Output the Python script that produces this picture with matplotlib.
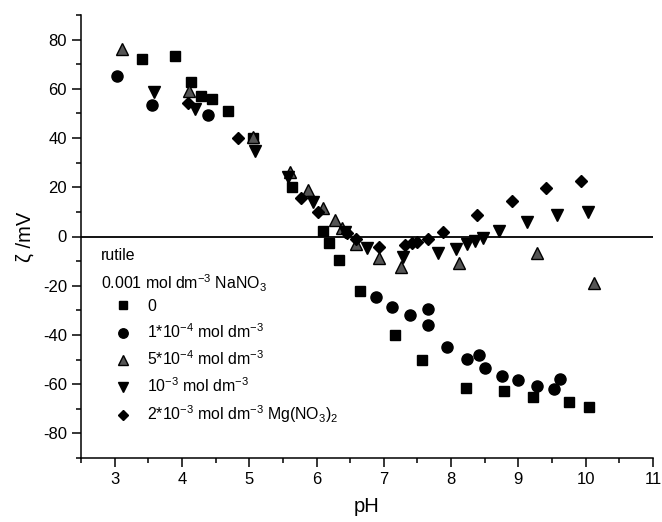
import matplotlib
matplotlib.use("Agg")
import matplotlib.pyplot as plt
from matplotlib.ticker import MultipleLocator

plt.rcParams['font.family'] = ['Liberation Sans', 'DejaVu Sans']
plt.rcParams['mathtext.fontset'] = 'custom'
plt.rcParams['mathtext.rm'] = 'Liberation Sans'
plt.rcParams['mathtext.it'] = 'Liberation Sans:italic'
plt.rcParams['axes.unicode_minus'] = False

# --- data ---
ph_0 = [3.41, 3.89, 4.14, 4.29, 4.45, 4.68, 5.06, 5.63, 6.09, 6.18, 6.34, 6.65,
        7.17, 7.57, 8.22, 8.78, 9.22, 9.75, 10.05]
zeta_0 = [72.2, 73.5, 62.7, 57.1, 55.8, 51.0, 40.0, 20.1, 2.4, -2.5, -9.7, -22.0,
          -40.0, -50.3, -61.5, -62.6, -65.3, -67.1, -69.3]

ph_1e4 = [3.03, 3.55, 4.38, 6.89, 7.12, 7.39, 7.65, 7.65, 7.94, 8.23, 8.42, 8.50,
          8.76, 8.99, 9.27, 9.53, 9.62]
zeta_1e4 = [65.4, 53.3, 49.3, -24.5, -28.6, -31.8, -29.3, -35.9, -44.9, -49.9, -48.2,
            -53.6, -56.7, -58.4, -60.8, -61.8, -58.0]

ph_5e4 = [3.11, 4.10, 5.06, 5.61, 5.87, 6.10, 6.27, 6.38, 6.59, 6.93, 7.26, 8.12,
          9.27, 10.12]
zeta_5e4 = [76.3, 59.3, 40.3, 26.2, 18.8, 11.7, 6.8, 3.3, -3.0, -8.7, -12.5, -10.9,
            -6.8, -18.9]

ph_1e3 = [3.59, 4.20, 5.09, 5.57, 5.95, 6.43, 6.75, 7.28, 7.81, 8.07, 8.24, 8.35,
          8.48, 8.71, 9.13, 9.58, 10.03]
zeta_1e3 = [58.6, 51.7, 34.8, 24.0, 14.0, 2.0, -4.7, -8.5, -6.8, -4.9, -3.0, -1.9,
            -0.7, 2.2, 6.0, 8.9, 9.9]

ph_mg = [4.09, 4.83, 5.77, 6.02, 6.45, 6.59, 6.93, 7.32, 7.42, 7.50, 7.65, 7.88,
         8.39, 8.91, 9.41, 9.93]
zeta_mg = [54.2, 40.1, 15.8, 9.9, 1.5, -1.2, -4.1, -3.3, -2.8, -2.2, -1.2, 1.9,
           8.6, 14.5, 19.7, 22.6]

labels = ["0",
          r"1*10$^{-4}$ mol dm$^{-3}$",
          r"5*10$^{-4}$ mol dm$^{-3}$",
          r"10$^{-3}$ mol dm$^{-3}$",
          r"2*10$^{-3}$ mol dm$^{-3}$ Mg(NO$_3$)$_2$"]
header1 = "rutile"
header2 = r"0.001 mol dm$^{-3}$ NaNO$_3$"

xticks = [3, 4, 5, 6, 7, 8, 9, 10, 11]
yticks = [-80, -60, -40, -20, 0, 20, 40, 60, 80]

# --- figure ---
fig = plt.figure(figsize=(6.62, 5.22), dpi=100)
L, R, T, B = 81, 653, 15, 458
ax = fig.add_axes([L/662, (522-B)/522, (R-L)/662, (B-T)/522])
W, H = R - L, B - T

ax.axhline(0, color='black', lw=1.3, zorder=1)

ax.plot(ph_0, zeta_0, ls='none', marker='s', ms=7.2, mfc='black', mec='black',
        label=labels[0], zorder=3)
ax.plot(ph_1e4, zeta_1e4, ls='none', marker='o', ms=8, mfc='black', mec='black',
        label=labels[1], zorder=3)
ax.plot(ph_5e4, zeta_5e4, ls='none', marker='^', ms=8, mfc='#555555', mec='black',
        mew=1.0, label=labels[2], zorder=3)
ax.plot(ph_1e3, zeta_1e3, ls='none', marker='v', ms=8.5, mfc='black', mec='black',
        label=labels[3], zorder=3)
ax.plot(ph_mg, zeta_mg, ls='none', marker='D', ms=5.8, mfc='black', mec='black',
        label=labels[4], zorder=3)

ax.set_xlim(2.5, 11)
ax.set_ylim(-90, 90)
ax.set_xticks(xticks)
ax.set_yticks(yticks)
ax.xaxis.set_minor_locator(MultipleLocator(0.5))
ax.yaxis.set_minor_locator(MultipleLocator(10))
ax.tick_params(which='major', direction='out', length=6.5, width=1.1, labelsize=12)
ax.tick_params(which='minor', direction='out', length=3.5, width=1.1)
ax.spines['top'].set_visible(False)
ax.spines['right'].set_visible(False)
for s in ('left', 'bottom'):
    ax.spines[s].set_linewidth(1.1)

ax.set_xlabel("pH", fontsize=14.5, labelpad=7)
ax.set_ylabel("ζ /mV", fontsize=14.5, labelpad=6)

fs = 11.4
ax.text((101-L)/W, (B-255)/H, header1, transform=ax.transAxes,
        fontsize=fs, va='center', ha='left')
ax.text((101-L)/W, (B-283)/H, header2, transform=ax.transAxes,
        fontsize=fs, va='center', ha='left')

ax.legend(loc='upper left', bbox_to_anchor=((113.5-L)/W, (B-299)/H),
          frameon=False, fontsize=fs, handlelength=1.2, handletextpad=0.92,
          labelspacing=0.53, borderpad=0, borderaxespad=0, numpoints=1,
          markerscale=0.85)

fig.savefig("out.png", dpi=100)
